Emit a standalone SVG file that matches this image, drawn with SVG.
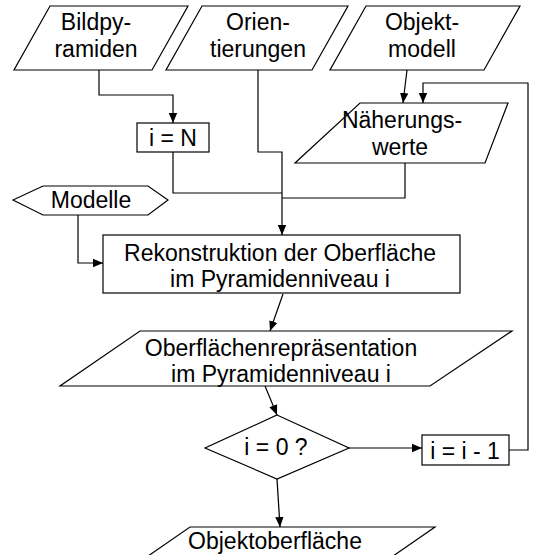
<svg xmlns="http://www.w3.org/2000/svg" width="534" height="555" viewBox="0 0 534 555">
<defs>
<marker id="arr" markerUnits="userSpaceOnUse" markerWidth="10" markerHeight="10" viewBox="0 0 10 10" refX="10" refY="5" orient="auto">
<path d="M0,0.8 L10,5 L0,9.2 Z" fill="#000"/>
</marker>
<style>
.s{fill:#fff;stroke:#000;stroke-width:1.2}
.c{fill:none;stroke:#000;stroke-width:1.2}
.t{font-family:"Liberation Sans",Arial,sans-serif;font-size:23px;fill:#000;text-anchor:middle}
</style>
</defs>
<rect width="534" height="555" fill="#fff"/>
<g id="connectors">
<path class="c" d="M99,70 V95 H173 V123" marker-end="url(#arr)"/>
<path class="c" d="M258,70 V152 H282 V235" marker-end="url(#arr)"/>
<path class="c" d="M173,152 V193 H282"/>
<path class="c" d="M405,163 V198 H282"/>
<path class="c" d="M407,70 L403,103" marker-end="url(#arr)"/>
<path class="c" d="M509,450 H528 V83 H423 V103" marker-end="url(#arr)"/>
<path class="c" d="M78,215 V263 H103" marker-end="url(#arr)"/>
<path class="c" d="M283,294 L270,331" marker-end="url(#arr)"/>
<path class="c" d="M265,386 L277,415" marker-end="url(#arr)"/>
<path class="c" d="M349,448 H422" marker-end="url(#arr)"/>
<path class="c" d="M277,479 L280,527" marker-end="url(#arr)"/>
</g>
<g id="bildpyramiden">
<polygon class="s" points="50,6 188,6 152,70 14,70"/>
<text class="t" x="96" y="30">Bildpy-</text>
<text class="t" x="96" y="57">ramiden</text>
</g>
<g id="orientierungen">
<polygon class="s" points="202,6 348,6 312,70 166,70"/>
<text class="t" x="258" y="30">Orien-</text>
<text class="t" x="258" y="57">tierungen</text>
</g>
<g id="objektmodell">
<polygon class="s" points="366,6 520,6 484,70 330,70"/>
<text class="t" x="422" y="30">Objekt-</text>
<text class="t" x="422" y="57">modell</text>
</g>
<g id="naeherungswerte">
<polygon class="s" points="360,103 508,103 485,163 295,163"/>
<text class="t" x="402" y="128">Näherungs-</text>
<text class="t" x="400" y="155">werte</text>
</g>
<g id="iN">
<rect class="s" x="137" y="123" width="72" height="29"/>
<text class="t" x="173" y="146">i = N</text>
</g>
<g id="modelle">
<polygon class="s" points="13,200 43,186 148,186 168,200 148,215 43,215"/>
<text class="t" x="91" y="208">Modelle</text>
</g>
<g id="rekonstruktion">
<rect class="s" x="103" y="235" width="357" height="58"/>
<text class="t" x="280" y="261">Rekonstruktion der Oberfläche</text>
<text class="t" x="280" y="287">im Pyramidenniveau i</text>
</g>
<g id="oberflaechenrepraesentation">
<polygon class="s" points="140,331 512,331 430,386 60,386"/>
<text class="t" x="281" y="356">Oberflächenrepräsentation</text>
<text class="t" x="281" y="382">im Pyramidenniveau i</text>
</g>
<g id="entscheidung">
<polygon class="s" points="277,415 349,448 277,479 205,448"/>
<text class="t" x="276" y="455">i = 0 ?</text>
</g>
<g id="iminus1">
<rect class="s" x="422" y="435" width="87" height="30"/>
<text class="t" x="465" y="459">i = i - 1</text>
</g>
<g id="objektoberflaeche">
<polygon class="s" points="190,527 435,527 370,572 125,572"/>
<text class="t" x="275" y="549">Objektoberfläche</text>
</g>
</svg>
